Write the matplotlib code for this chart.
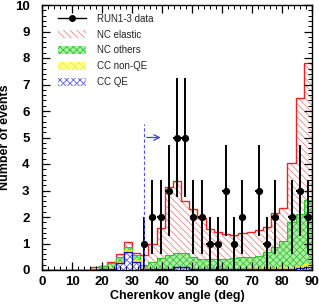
import numpy as np
import matplotlib
matplotlib.use('Agg')
import matplotlib.pyplot as plt
from matplotlib.ticker import MultipleLocator
from matplotlib.lines import Line2D

# 33 bins over 0-90 deg
edges = np.linspace(0, 90, 34)
centers = 0.5 * (edges[:-1] + edges[1:])

# stacked MC, values
cc_qe = [0, 0, 0, 0, 0, 0, 0, 0.02, 0.05, 0.25, 0.68, 0.32, 0.05, 0.02, 0.02, 0.02, 0.1,
         0.1, 0.02, 0.02, 0.02, 0.02, 0.02, 0.02, 0.02, 0.02, 0.02, 0.02, 0.03, 0.04, 0.05, 0.08, 0.12]
cc_nonqe = [0, 0, 0, 0, 0, 0, 0.01, 0.02, 0.03, 0.05, 0.07, 0.05, 0.03, 0.03, 0.03, 0.03, 0.03,
            0.03, 0.03, 0.03, 0.03, 0.03, 0.03, 0.03, 0.03, 0.04, 0.04, 0.05, 0.05, 0.06, 0.07, 0.08, 0.1]
nc_others = [0, 0, 0, 0, 0, 0, 0.03, 0.1, 0.2, 0.2, 0.13, 0.2, 0.12, 0.25, 0.4, 0.5, 0.52,
             0.5, 0.43, 0.37, 0.35, 0.35, 0.37, 0.4, 0.43, 0.44, 0.47, 0.6, 0.77, 1.0, 1.68, 1.94, 2.43]
total = [0, 0, 0, 0, 0, 0, 0.1, 0.15, 0.3, 0.6, 1.05, 0.65, 0.58, 1.0, 1.6, 3.12, 3.37,
         2.6, 2.3, 1.95, 1.55, 1.43, 1.35, 1.33, 1.38, 1.45, 1.5, 1.63, 2.15, 2.35, 4.05, 6.5, 7.82]

# RUN1-3 data per bin (zero bins not drawn)
data = [0, 0, 0, 0, 0, 0, 0, 0, 0, 0, 0, 0, 1, 2, 2, 3, 5,
        5, 2, 2, 1, 1, 3, 1, 2, 0, 3, 1, 2, 0, 2, 3, 2]

cc_qe = np.array(cc_qe)
lvl1 = cc_qe + np.array(cc_nonqe)
lvl2 = lvl1 + np.array(nc_others)
total = np.array(total)
data = np.array(data)

plt.rcParams['font.family'] = ['Liberation Sans', 'DejaVu Sans']
plt.rcParams['hatch.linewidth'] = 0.6

fig = plt.figure(figsize=(3.19, 3.05), dpi=100)
ax = fig.add_axes([42/319, 1-270/305, 270/319, 265/305])

# NC elastic (top layer)
h_el = ax.stairs(total, edges, baseline=lvl2, fill=True, facecolor='white',
                 edgecolor='#f08888', hatch='\\\\\\\\\\', linewidth=0)
ax.stairs(total, edges, color='#ee2222', linewidth=1.0)
# NC others
h_nco = ax.stairs(lvl2, edges, baseline=lvl1, fill=True, facecolor='#a8f0a0',
                  edgecolor='#40c040', hatch='xxxxx', linewidth=0)
ax.stairs(lvl2, edges, color='#30c030', linewidth=0.8)
# CC non-QE
h_ccn = ax.stairs(lvl1, edges, baseline=cc_qe, fill=True, facecolor='#ffff90',
                  edgecolor='#eeee40', hatch='xxxx', linewidth=0)
ax.stairs(lvl1, edges, color='#e8e820', linewidth=0.8)
# CC QE
h_qe = ax.stairs(cc_qe, edges, baseline=0, fill=True, facecolor='white',
                 edgecolor='#6060ee', hatch='xxxxx', linewidth=0)
ax.stairs(cc_qe, edges, color='#1010cc', linewidth=1.0)

m = data > 0
ax.errorbar(centers[m], data[m], yerr=np.sqrt(data[m]), xerr=(edges[1]-edges[0])/2*0.9,
            fmt='o', color='black', markersize=4.2, elinewidth=1.4, capsize=0)

# cut line + arrow
ax.plot([34, 34], [0, 5.5], color='#5050ee', linestyle=(0, (3, 2)), linewidth=0.8)
ax.annotate('', xy=(40.5, 5), xytext=(34, 5),
            arrowprops=dict(arrowstyle='->', color='#4040ee', lw=0.9))

ax.set_xlim(0, 90)
ax.set_ylim(0, 10)
ax.xaxis.set_major_locator(MultipleLocator(10))
ax.xaxis.set_minor_locator(MultipleLocator(2))
ax.yaxis.set_major_locator(MultipleLocator(1))
ax.yaxis.set_minor_locator(MultipleLocator(0.2))
ax.tick_params(which='both', direction='in', top=True, right=True, labelsize=9.5)
ax.tick_params(axis='x', pad=4)
ax.tick_params(axis='y', pad=9)
ax.tick_params(which='major', length=6, width=0.9)
ax.tick_params(which='minor', length=3, width=0.7)
for t in ax.get_xticklabels() + ax.get_yticklabels():
    t.set_fontweight('bold')
for s in ax.spines.values():
    s.set_linewidth(1.0)

ax.set_xlabel('Cherenkov angle (deg)', fontsize=9, fontweight='bold', labelpad=2)
ax.set_ylabel('Number of events', fontsize=9, fontweight='bold', labelpad=3)

h_data = Line2D([], [], color='black', marker='o', markersize=4, linewidth=1.0)
ax.legend([h_data, h_el, h_nco, h_ccn, h_qe],
          ['RUN1-3 data', 'NC elastic', 'NC others', 'CC non-QE', 'CC QE'],
          loc='upper left', bbox_to_anchor=(0.025, 1.0),
          frameon=False, fontsize=7, handlelength=2.9, handleheight=0.9,
          labelspacing=0.6, handletextpad=1.2, labelcolor='#222222')

fig.savefig('out.png', dpi=100)
